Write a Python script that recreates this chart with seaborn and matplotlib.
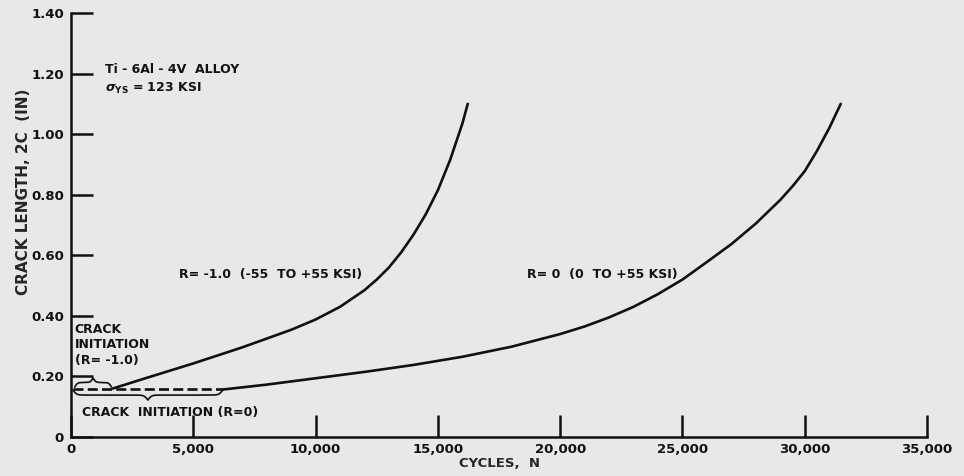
import numpy as np
import pandas as pd
import matplotlib
matplotlib.use("Agg")
import matplotlib.pyplot as plt
import seaborn as sns

# ---- data ----
cycles_rm1 = [1700, 3000, 5000, 7000, 9000, 10000, 11000, 12000, 12500, 13000,
              13500, 14000, 14500, 15000, 15500, 16000, 16220]
crack_rm1 = [0.160, 0.193, 0.243, 0.296, 0.354, 0.388, 0.430, 0.485, 0.520, 0.560,
             0.610, 0.668, 0.735, 0.815, 0.915, 1.035, 1.100]

cycles_r0 = [6230, 8000, 10000, 12000, 14000, 16000, 18000, 20000, 21000, 22000,
             23000, 24000, 25000, 26000, 27000, 28000, 29000, 29500, 30000, 30500,
             31000, 31470]
crack_r0 = [0.157, 0.173, 0.194, 0.215, 0.238, 0.265, 0.298, 0.340, 0.365, 0.395,
            0.430, 0.472, 0.520, 0.578, 0.637, 0.705, 0.783, 0.828, 0.878, 0.945,
            1.020, 1.100]

init_cycles_r0 = [100, 6230]
init_crack_r0 = [0.157, 0.157]

x_ticks = [0, 5000, 10000, 15000, 20000, 25000, 30000, 35000]
x_ticklabels = ["0", "5,000", "10,000", "15,000", "20,000", "25,000", "30,000", "35,000"]
y_ticks = [0, 0.2, 0.4, 0.6, 0.8, 1.0, 1.2, 1.4]
y_ticklabels = ["0", "0.20", "0.40", "0.60", "0.80", "1.00", "1.20", "1.40"]

df_rm1 = pd.DataFrame({"N": cycles_rm1, "L": crack_rm1})
df_r0 = pd.DataFrame({"N": cycles_r0, "L": crack_r0})
df_init = pd.DataFrame({"N": init_cycles_r0, "L": init_crack_r0})

sns.set_style("ticks")
bg = "#e8e8e8"
plt.rcParams["font.family"] = ["DejaVu Sans"]
plt.rcParams["font.weight"] = "bold"

fig = plt.figure(figsize=(9.64, 4.76), dpi=100, facecolor=bg)
ax = fig.add_axes([0.0737, 0.0819, 0.888, 0.8908])
ax.set_facecolor(bg)

ink = "#111111"
sns.lineplot(data=df_rm1, x="N", y="L", ax=ax, color=ink, lw=1.9)
sns.lineplot(data=df_r0, x="N", y="L", ax=ax, color=ink, lw=1.9)
sns.lineplot(data=df_init, x="N", y="L", ax=ax, color=ink, lw=1.9,
             linestyle=(0, (3.8, 1.6)))


def brace(ax, x0, x1, ybase, h, curl):
    beta = 3.0 / curl
    xm = 0.5 * (x0 + x1)
    xl = np.linspace(x0, xm, 200)
    f = 1 / (1 + np.exp(-beta * (xl - x0))) + 1 / (1 + np.exp(-beta * (xl - xm)))
    xs = np.concatenate([xl, (x0 + x1) - xl[::-1]])
    fs = np.concatenate([f, f[::-1]])
    ys = ybase + h * (fs - 0.5)
    ax.plot(xs, ys, color=ink, lw=1.2)


brace(ax, 150, 1650, 0.165, 0.030, 160)
brace(ax, 80, 6200, 0.155, -0.033, 220)

fs = 9
ax.text(1390, 1.215, "Ti - 6Al - 4V  ALLOY", fontsize=fs, fontweight="bold",
        va="center", ha="left", color=ink)
ax.text(1390, 1.150, r"$\sigma_{\mathbf{YS}}$ = 123 KSI", fontsize=fs,
        fontweight="bold", va="center", ha="left", color=ink)
ax.text(4420, 0.535, "R= -1.0  (-55  TO +55 KSI)", fontsize=fs, fontweight="bold",
        va="center", ha="left", color=ink)
ax.text(18640, 0.535, "R= 0  (0  TO +55 KSI)", fontsize=fs, fontweight="bold",
        va="center", ha="left", color=ink)
ax.text(150, 0.305, "CRACK\nINITIATION\n(R= -1.0)", fontsize=fs, fontweight="bold",
        va="center", ha="left", color=ink, linespacing=1.25)
ax.text(450, 0.08, "CRACK  INITIATION (R=0)", fontsize=fs, fontweight="bold",
        va="center", ha="left", color=ink)

ax.set_xlim(0, 35000)
ax.set_ylim(0, 1.4)
ax.set_xticks(x_ticks)
ax.set_xticklabels(x_ticklabels, fontsize=9.5, fontweight="bold")
ax.set_yticks(y_ticks)
ax.set_yticklabels(y_ticklabels, fontsize=9.5, fontweight="bold")
ax.set_xlabel("CYCLES,  N", fontsize=9.5, fontweight="bold", labelpad=1)
ax.set_ylabel("CRACK LENGTH, 2C  (IN)", fontsize=11, fontweight="bold")
ax.yaxis.set_label_coords(-0.047, 0.578)
ax.tick_params(direction="in", length=16, width=1.8, colors=ink)
ax.tick_params(axis="x", pad=4)
ax.tick_params(axis="y", pad=5)
sns.despine(ax=ax)
for s in ["left", "bottom"]:
    ax.spines[s].set_linewidth(1.8)
    ax.spines[s].set_color(ink)

fig.savefig("out.png", dpi=100, facecolor=bg)
